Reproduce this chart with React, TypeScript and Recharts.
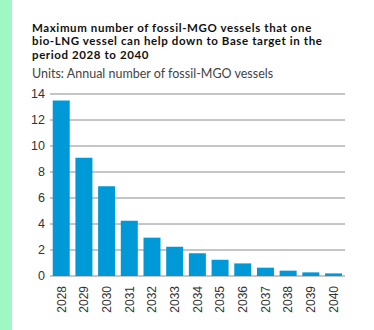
import React from 'react';
import { BarChart, Bar, XAxis, YAxis, CartesianGrid } from 'recharts';

const years = ['2028', '2029', '2030', '2031', '2032', '2033', '2034', '2035', '2036', '2037', '2038', '2039', '2040'];
const vessels = [13.5, 9.1, 6.9, 4.25, 2.95, 2.25, 1.75, 1.25, 0.97, 0.64, 0.41, 0.28, 0.2];
const yTicks = [0, 2, 4, 6, 8, 10, 12, 14];

const chartData = years.map((year, i) => ({ year, value: vessels[i] }));

const YearTick = ({ x, y, payload }: any) => (
  <text
    x={x}
    y={y}
    transform={`rotate(-90, ${x}, ${y})`}
    textAnchor="end"
    dy="0.35em"
    fill="#333"
    fontSize={12}
    fontFamily="'Liberation Sans', Arial, sans-serif"
  >
    {payload.value}
  </text>
);

const App = () => {
  return (
    <div
      style={{
        position: 'absolute',
        top: 0,
        left: 0,
        width: 374,
        height: 330,
        background: '#fff',
        overflow: 'hidden',
      }}
    >
      <div style={{ position: 'absolute', left: 0, top: 0, width: 12, height: 330, background: '#9ff7c3' }} />
      <div
        style={{
          position: 'absolute',
          left: 32,
          top: 21,
          fontFamily: 'Lato, sans-serif',
          fontWeight: 700,
          fontSize: 11.5,
          letterSpacing: 0.6,
          lineHeight: '13.4px',
          color: '#111',
          whiteSpace: 'nowrap',
        }}
      >
        <div>Maximum number of fossil-MGO vessels that one</div>
        <div>bio-LNG vessel can help down to Base target in the</div>
        <div>period 2028 to 2040</div>
      </div>
      <div
        style={{
          position: 'absolute',
          left: 32,
          top: 66,
          fontFamily: 'Lato, sans-serif',
          fontSize: 12.5,
          lineHeight: '15px',
          color: '#444',
          whiteSpace: 'nowrap',
        }}
      >
        Units: Annual number of fossil-MGO vessels
      </div>
      <div style={{ position: 'absolute', left: 0, top: 0 }}>
        <BarChart
          width={374}
          height={330}
          data={chartData}
          margin={{ top: 94, right: 29, left: 10, bottom: 14 }}
          barCategoryGap="12%"
        >
          <CartesianGrid vertical={false} stroke="#8c8c8c" strokeWidth={1} />
          <XAxis
            dataKey="year"
            interval={0}
            height={40}
            tick={<YearTick />}
            tickLine={false}
            axisLine={false}
            tickMargin={4}
          />
          <YAxis
            domain={[0, 14]}
            ticks={yTicks}
            width={40}
            tickLine={false}
            axisLine={false}
            tickSize={0}
            tickMargin={5}
            tick={{ fill: '#333', fontSize: 12.5, fontFamily: "'Liberation Sans', Arial, sans-serif" }}
          />
          <Bar dataKey="value" fill="#0099d8" isAnimationActive={false} />
        </BarChart>
      </div>
    </div>
  );
};

export default App;
